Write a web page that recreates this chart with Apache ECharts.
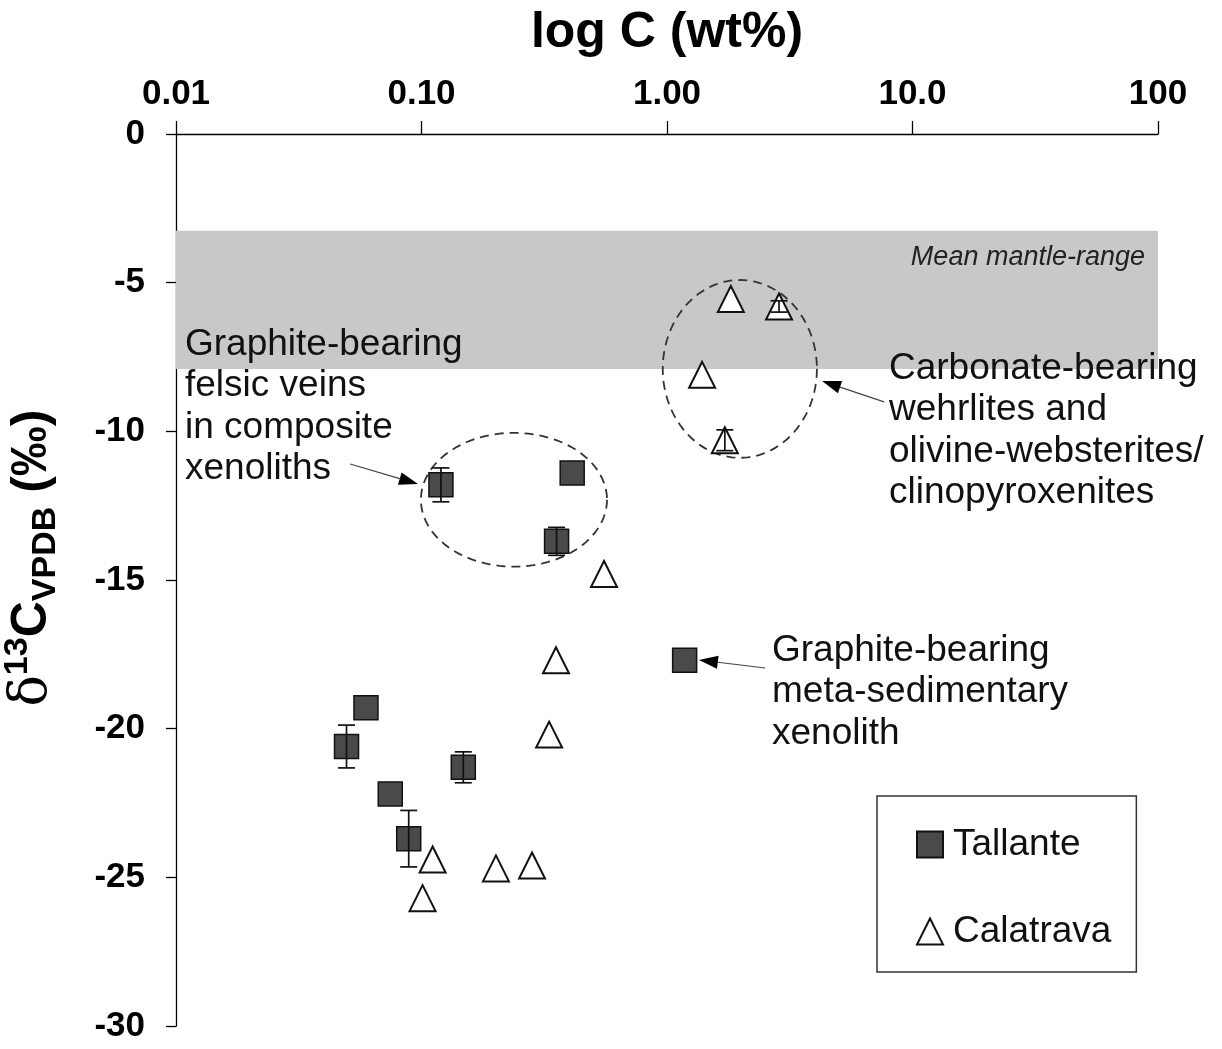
<!DOCTYPE html>
<html>
<head>
<meta charset="utf-8">
<script src="https://cdn.jsdelivr.net/npm/echarts@6/dist/echarts.min.js"></script>
<style>
html, body { margin: 0; padding: 0; background: #fff; }
#main { width: 1222px; height: 1049px; }
</style>
</head>
<body>
<div id="main"></div>
<script>
var FONT = "'Liberation Sans', Arial, sans-serif";

// x tick labels (log decades 0.01 .. 100)
var xTickLabels = ['0.01', '0.10', '1.00', '10.0', '100'];

// Tallante: [C wt%, d13C]
var tallante = [
    [0.0495, -20.6], [0.0594, -19.3], [0.0746, -22.2], [0.0887, -23.7],
    [0.148, -21.3], [0.120, -11.8], [0.411, -11.4], [0.355, -13.7], [1.18, -17.7]
];
var tallanteErr = [0.72, 0, 0, 0.95, 0.52, 0.57, 0, 0.47, 0];

// Calatrava: [C wt%, d13C]
var calatrava = [
    [0.554, -14.8], [0.353, -17.7], [0.331, -20.2], [0.282, -24.6],
    [0.201, -24.7], [0.111, -24.4], [0.101, -25.7], [1.82, -5.55],
    [2.86, -5.8], [1.39, -8.1], [1.72, -10.3]
];
var calatravaErr = [0, 0, 0, 0, 0, 0, 0, 0, 0.19, 0, 0.35];

// grey band
var mantleRange = [-3.25, -7.9];

// dashed ellipses: [centre C, centre d13C, half width (decades), half height (permil)]
var ellipses = [[0.238, -12.3, 0.379, 2.25], [1.98, -7.9, 0.314, 2.99]];

// arrows: [tail C, tail d13C, tip C, tip d13C]
var arrows = [[0.0512, -11.1, 0.0968, -11.77], [7.66, -9.01, 4.28, -8.31], [2.51, -17.96, 1.349, -17.69]];

function errData(pts, errs) {
    var out = [];
    for (var i = 0; i < pts.length; i++) {
        if (errs[i] > 0) out.push([pts[i][0], pts[i][1], errs[i]]);
    }
    return out;
}

function renderErr(params, api) {
    var x = api.value(0), y = api.value(1), e = api.value(2);
    var top = api.coord([x, y + e]);
    var bot = api.coord([x, y - e]);
    var w = 8.5;
    var st = { stroke: '#111', lineWidth: 1.7 };
    return {
        type: 'group',
        children: [
            { type: 'line', shape: { x1: top[0], y1: top[1], x2: bot[0], y2: bot[1] }, style: st },
            { type: 'line', shape: { x1: top[0] - w, y1: top[1], x2: top[0] + w, y2: top[1] }, style: st },
            { type: 'line', shape: { x1: bot[0] - w, y1: bot[1], x2: bot[0] + w, y2: bot[1] }, style: st }
        ]
    };
}

function renderEllipse(params, api) {
    var c = api.coord([api.value(0), api.value(1)]);
    var r = api.coord([api.value(0) * Math.pow(10, api.value(2)), api.value(1) + api.value(3)]);
    var rx = Math.abs(r[0] - c[0]), ry = Math.abs(r[1] - c[1]);
    var pts = [];
    for (var i = 0; i < 120; i++) {
        var t = i / 120 * Math.PI * 2;
        pts.push([c[0] + rx * Math.cos(t), c[1] + ry * Math.sin(t)]);
    }
    return {
        type: 'polygon',
        shape: { points: pts },
        style: { fill: 'none', stroke: '#333', lineWidth: 1.8, lineDash: [9, 6] }
    };
}

function renderArrow(params, api) {
    var p1 = api.coord([api.value(0), api.value(1)]);
    var p2 = api.coord([api.value(2), api.value(3)]);
    var dx = p2[0] - p1[0], dy = p2[1] - p1[1];
    var len = Math.sqrt(dx * dx + dy * dy);
    var ux = dx / len, uy = dy / len;
    var hl = 19, hw = 6.5;
    var bx = p2[0] - ux * hl, by = p2[1] - uy * hl;
    return {
        type: 'group',
        children: [
            { type: 'line', shape: { x1: p1[0], y1: p1[1], x2: bx, y2: by }, style: { stroke: '#444', lineWidth: 1.2 } },
            { type: 'polygon', shape: { points: [[p2[0], p2[1]], [bx - uy * hw, by + ux * hw], [bx + uy * hw, by - ux * hw]] }, style: { fill: '#000' } }
        ]
    };
}

var chart = echarts.init(document.getElementById('main'));

var textStyle = { fontFamily: FONT, fontSize: 37, lineHeight: 41.5, fill: '#111' };

var option = {
    backgroundColor: '#fff',
    animation: false,
    grid: { left: 176, right: 64, top: 134, bottom: 23, outerBoundsMode: 'none' },
    xAxis: {
        type: 'log',
        logBase: 10,
        min: 0.01,
        max: 100,
        position: 'top',
        name: 'log C (wt%)',
        nameLocation: 'middle',
        nameGap: 76,
        nameTextStyle: { fontFamily: FONT, fontSize: 50, fontWeight: 'bold', color: '#000' },
        axisLine: { show: true, lineStyle: { color: '#000', width: 1.3 } },
        axisTick: { show: true, length: 13, inside: false, lineStyle: { color: '#000', width: 1.3 } },
        minorTick: { show: false },
        splitLine: { show: false },
        axisLabel: {
            margin: 22,
            fontFamily: FONT, fontSize: 35, fontWeight: 'bold', color: '#000',
            formatter: function (v) {
                return xTickLabels[Math.round(Math.log10(v)) + 2];
            }
        }
    },
    yAxis: {
        type: 'value',
        min: -30,
        max: 0,
        interval: 5,
        axisLine: { show: true, lineStyle: { color: '#000', width: 1.3 } },
        axisTick: { show: true, length: 10, inside: false, lineStyle: { color: '#000', width: 1.3 } },
        splitLine: { show: false },
        axisLabel: { margin: 31, fontFamily: FONT, fontSize: 35, fontWeight: 'bold', color: '#000' }
    },
    legend: {
        orient: 'vertical',
        left: 877,
        top: 796,
        padding: [30, 25, 22, 39],
        itemGap: 50,
        itemWidth: 26,
        itemHeight: 26,
        borderColor: '#333',
        borderWidth: 1.5,
        textStyle: { fontFamily: FONT, fontSize: 37, lineHeight: 36, color: '#111', padding: [0, 0, 0, 5] },
        data: [{ name: 'Tallante', icon: 'rect' }, { name: 'Calatrava', icon: 'triangle' }]
    },
    series: [
        {
            name: 'ellipses',
            type: 'custom',
            renderItem: renderEllipse,
            encode: { x: 0, y: 1 },
            data: ellipses,
            z: 2,
            silent: true
        },
        {
            name: 'Tallante',
            type: 'scatter',
            symbol: 'rect',
            symbolSize: 24,
            itemStyle: { color: '#4a4a4a', borderColor: '#111', borderWidth: 1.5, opacity: 1 },
            data: tallante,
            z: 3,
            markArea: {
                silent: true,
                itemStyle: { color: '#c8c8c8' },
                label: {
                    show: true,
                    position: 'insideTopRight',
                    distance: 13,
                    fontFamily: FONT, fontSize: 27, fontStyle: 'italic', color: '#222'
                },
                data: [[{ yAxis: mantleRange[0], name: 'Mean mantle-range' }, { yAxis: mantleRange[1] }]]
            }
        },
        {
            name: 'Calatrava',
            type: 'scatter',
            symbol: 'triangle',
            symbolSize: [26, 26],
            itemStyle: { color: '#fff', borderColor: '#111', borderWidth: 2, opacity: 1 },
            data: calatrava,
            z: 3
        },
        {
            name: 'errTallante',
            type: 'custom',
            renderItem: renderErr,
            encode: { x: 0, y: 1 },
            data: errData(tallante, tallanteErr),
            z: 4,
            silent: true
        },
        {
            name: 'errCalatrava',
            type: 'custom',
            renderItem: renderErr,
            encode: { x: 0, y: 1 },
            data: errData(calatrava, calatravaErr),
            z: 4,
            silent: true
        },
        {
            name: 'arrows',
            type: 'custom',
            renderItem: renderArrow,
            encode: { x: [0, 2], y: [1, 3] },
            data: arrows,
            z: 4,
            silent: true
        }
    ],
    graphic: [
        {
            type: 'text',
            x: 32, y: 558,
            rotation: Math.PI / 2,
            z: 10,
            style: {
                text: '{d|δ}{s|13}{c|C}{b|VPDB}{c| (‰)}',
                align: 'center',
                verticalAlign: 'middle',
                rich: {
                    d: { fontFamily: "'DejaVu Serif', serif", fontSize: 52, lineHeight: 62, fill: '#000' },
                    s: { fontFamily: FONT, fontSize: 34, fontWeight: 'bold', verticalAlign: 'top', fill: '#000' },
                    c: { fontFamily: FONT, fontSize: 50, fontWeight: 'bold', lineHeight: 62, fill: '#000' },
                    b: { fontFamily: FONT, fontSize: 34, fontWeight: 'bold', verticalAlign: 'bottom', fill: '#000' }
                }
            }
        },
        {
            type: 'text', x: 185, y: 324, z: 10,
            style: echarts.util.extend({ text: 'Graphite-bearing\nfelsic veins\nin composite\nxenoliths', verticalAlign: 'top' }, textStyle)
        },
        {
            type: 'text', x: 889, y: 348, z: 10,
            style: echarts.util.extend({ text: 'Carbonate-bearing\nwehrlites and\nolivine-websterites/\nclinopyroxenites', verticalAlign: 'top' }, textStyle)
        },
        {
            type: 'text', x: 772, y: 630, z: 10,
            style: echarts.util.extend({ text: 'Graphite-bearing\nmeta-sedimentary\nxenolith', verticalAlign: 'top' }, textStyle)
        }
    ]
};

chart.setOption(option);
</script>
</body>
</html>
